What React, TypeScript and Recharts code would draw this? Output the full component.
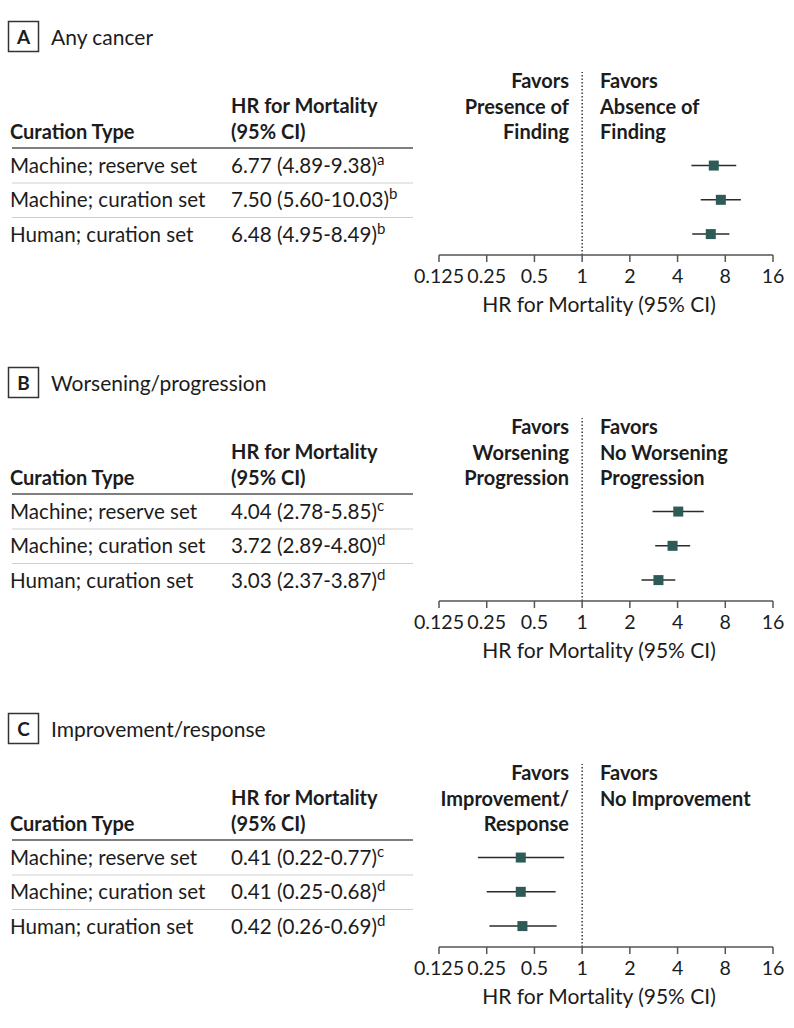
import React from 'react';
import { ScatterChart, Scatter, XAxis, YAxis, ErrorBar, ReferenceLine, Label } from 'recharts';

const curationTypes = ['Machine; reserve set', 'Machine; curation set', 'Human; curation set'];
const panelLetters = ['A', 'B', 'C'];
const panelTitles = ['Any cancer', 'Worsening/progression', 'Improvement/response'];

const hrAnyCancer = [6.77, 7.5, 6.48];
const lowerAnyCancer = [4.89, 5.6, 4.95];
const upperAnyCancer = [9.38, 10.03, 8.49];
const notesAnyCancer = ['a', 'b', 'b'];

const hrWorsening = [4.04, 3.72, 3.03];
const lowerWorsening = [2.78, 2.89, 2.37];
const upperWorsening = [5.85, 4.8, 3.87];
const notesWorsening = ['c', 'd', 'd'];

const hrImprovement = [0.41, 0.41, 0.42];
const lowerImprovement = [0.22, 0.25, 0.26];
const upperImprovement = [0.77, 0.68, 0.69];
const notesImprovement = ['c', 'd', 'd'];

const favorsLeft = [
  ['Favors', 'Presence of', 'Finding'],
  ['Favors', 'Worsening', 'Progression'],
  ['Favors', 'Improvement/', 'Response'],
];
const favorsRight = [
  ['Favors', 'Absence of', 'Finding'],
  ['Favors', 'No Worsening', 'Progression'],
  ['Favors', 'No Improvement'],
];

const hrTicks = [0.125, 0.25, 0.5, 1, 2, 4, 8, 16];

const FONT = 'Lato, "Noto Sans", sans-serif';
const TEXT = '#1c1c1c';
const MARKER = '#2e5b57';
const PANEL_STEP = 346;

const panels = [
  { hr: hrAnyCancer, lo: lowerAnyCancer, hi: upperAnyCancer, notes: notesAnyCancer },
  { hr: hrWorsening, lo: lowerWorsening, hi: upperWorsening, notes: notesWorsening },
  { hr: hrImprovement, lo: lowerImprovement, hi: upperImprovement, notes: notesImprovement },
];

const SquareMarker = (props: any) => {
  const { cx, cy } = props;
  if (cx == null || cy == null) return null;
  return <rect x={cx - 5} y={cy - 5} width={10} height={10} fill={MARKER} />;
};

function TableText({ index }: { index: number }) {
  const top = index * PANEL_STEP;
  const p = panels[index];
  const rowBase = [172.5, 207, 241.5];
  return (
    <g fontFamily={FONT} fill={TEXT} fontSize={20.6}>
      <rect x={8.5} y={top + 21.5} width={30} height={30} fill="none" stroke="#333" strokeWidth={1.5} />
      <text x={23.5} y={top + 43.5} textAnchor="middle" fontWeight="bold" fontSize={19}>
        {panelLetters[index]}
      </text>
      <text x={51} y={top + 44.5} fontSize={21}>{panelTitles[index]}</text>

      <g fontWeight="bold" fontSize={20}>
        <text x={231} y={top + 113}>HR for Mortality</text>
        <text x={231} y={top + 139}>(95% CI)</text>
        <text x={10} y={top + 139}>Curation Type</text>
      </g>
      <line x1={12} x2={413} y1={top + 148} y2={top + 148} stroke="#555" strokeWidth={1.5} />

      {curationTypes.map((name, i) => (
        <g key={name}>
          <text x={10} y={top + rowBase[i]}>{name}</text>
          <text x={231} y={top + rowBase[i]}>
            {`${p.hr[i].toFixed(2)} (${p.lo[i].toFixed(2)}-${p.hi[i].toFixed(2)})`}
            <tspan fontSize={15} dy={-8}>{p.notes[i]}</tspan>
          </text>
          {i < 2 && (
            <line x1={12} x2={413} y1={top + rowBase[i] + 10.5} y2={top + rowBase[i] + 10.5} stroke="#cfcfcf" strokeWidth={1} />
          )}
        </g>
      ))}

      {favorsLeft[index].map((t, i) => (
        <text key={'l' + i} x={569} y={top + 88 + i * 25.5} textAnchor="end" fontWeight="bold" fontSize={20}>{t}</text>
      ))}
      {favorsRight[index].map((t, i) => (
        <text key={'r' + i} x={600} y={top + 88 + i * 25.5} fontWeight="bold" fontSize={20}>{t}</text>
      ))}
    </g>
  );
}

function ForestPlot({ index }: { index: number }) {
  const p = panels[index];
  const data = p.hr.map((hr, i) => ({
    x: hr,
    y: i + 1,
    ci: [hr - p.lo[i], p.hi[i] - hr],
  }));
  return (
    <div style={{ position: 'absolute', left: 400, top: index * PANEL_STEP, width: 394, height: 330 }}>
      <ScatterChart width={394} height={330} margin={{ top: 72, right: 21, bottom: 0, left: 39 }}>
        <XAxis
          type="number"
          dataKey="x"
          scale="log"
          domain={[0.125, 16]}
          ticks={hrTicks}
          allowDataOverflow
          interval={0}
          height={75}
          tickSize={7}
          tickMargin={7}
          axisLine={{ stroke: '#555', strokeWidth: 1.5 }}
          tickLine={{ stroke: '#555', strokeWidth: 1.5 }}
          tick={{ fill: TEXT, fontSize: 19.6, fontFamily: FONT }}
          tickFormatter={(v: number) => String(v)}
        >
          <Label
            value="HR for Mortality (95% CI)"
            position="insideBottom"
            offset={18}
            dx={-7}
            style={{ fill: TEXT, fontSize: 21, fontFamily: FONT }}
          />
        </XAxis>
        <YAxis type="number" dataKey="y" domain={[-1.73, 3.61]} reversed hide width={0} />
        <ReferenceLine x={1} stroke="#222" strokeWidth={1.3} strokeDasharray="1.5 2" />
        <Scatter data={data} shape={SquareMarker} isAnimationActive={false}>
          <ErrorBar dataKey="ci" direction="x" width={0} stroke="#2b2b2b" strokeWidth={1.5} />
        </Scatter>
      </ScatterChart>
    </div>
  );
}

export default function App() {
  return (
    <div style={{ position: 'absolute', left: 0, top: 0, width: 794, height: 1028, background: '#fff' }}>
      <svg width={794} height={1028} style={{ position: 'absolute', left: 0, top: 0 }}>
        {[0, 1, 2].map((i) => (
          <TableText key={i} index={i} />
        ))}
      </svg>
      {[0, 1, 2].map((i) => (
        <ForestPlot key={i} index={i} />
      ))}
    </div>
  );
}
